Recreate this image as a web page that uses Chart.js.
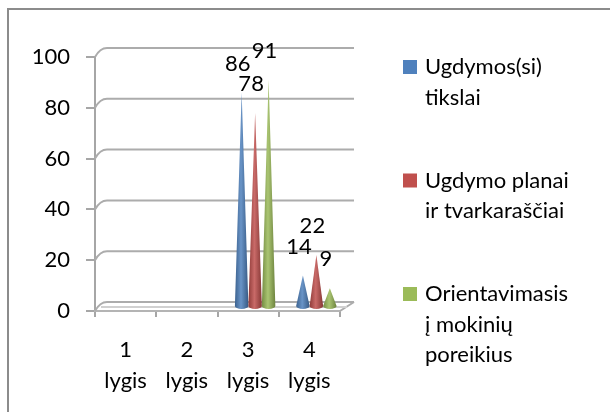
<!DOCTYPE html>
<html>
<head>
<meta charset="utf-8">
<script src="https://cdn.jsdelivr.net/npm/chart.js@4.4.1/dist/chart.umd.min.js"></script>
<style>
  html, body { margin: 0; padding: 0; background: #fff; }
  #wrap { position: relative; width: 610px; height: 412px; overflow: hidden; }
  #frame { position: absolute; left: 7px; top: 8px; width: 700px; height: 500px;
           border-left: 2px solid #8c8c8c; border-top: 2px solid #8c8c8c; }
  canvas { position: absolute; left: 0; top: 0; }
</style>
</head>
<body>
<div id="wrap">
  <div id="frame"></div>
  <canvas id="chart" width="610" height="412"></canvas>
</div>
<script>
const categories = [["1", "lygis"], ["2", "lygis"], ["3", "lygis"], ["4", "lygis"]];
const seriesNames = [
  ["Ugdymos(si)", "tikslai"],
  ["Ugdymo planai", "ir tvarkaraščiai"],
  ["Orientavimasis", "į mokinių", "poreikius"]
];
const tikslai = [0, 0, 86, 14];
const planai = [0, 0, 78, 22];
const poreikiai = [0, 0, 91, 9];
const colors = ["#4F81BD", "#C0504D", "#9BBB59"];
const yTicks = [0, 20, 40, 60, 80, 100];

const FONT = "Lato, 'Open Sans', sans-serif";
const FSIZE = 22;
const DEPTH_X = 7;

function shade(hex, f) {
  const n = parseInt(hex.slice(1), 16);
  let r = (n >> 16) & 255, g = (n >> 8) & 255, b = n & 255;
  if (f < 0) { r *= 1 + f; g *= 1 + f; b *= 1 + f; }
  else { r += (255 - r) * f; g += (255 - g) * f; b += (255 - b) * f; }
  return `rgb(${Math.round(r)},${Math.round(g)},${Math.round(b)})`;
}

// 3D-ish walls: slanted gridlines and floor, cones, labels, legend
const wallsPlugin = {
  id: "walls",
  beforeDatasetsDraw(chart) {
    const { ctx, chartArea } = chart;
    const y = chart.scales.y;
    ctx.save();
    ctx.strokeStyle = "#acacac";
    ctx.lineWidth = 2;
    yTicks.forEach(v => {
      const py = y.getPixelForValue(v);
      ctx.beginPath();
      ctx.moveTo(chartArea.left, py);
      ctx.quadraticCurveTo(chartArea.left + 5, py - 9, chartArea.left + 12, py - 9);
      ctx.lineTo(chartArea.right + 14, py - 9);
      ctx.stroke();
    });
    const base = y.getPixelForValue(0);
    ctx.beginPath();
    ctx.moveTo(chartArea.right, base);
    ctx.lineTo(chartArea.right + 14, base - 9);
    ctx.stroke();
    ctx.beginPath();
    ctx.moveTo(chartArea.left + 6, base - 4);
    ctx.lineTo(chartArea.right + 7, base - 4);
    ctx.strokeStyle = "#d0d0d0";
    ctx.stroke();
    ctx.restore();
  },
  beforeDatasetDraw() {
    return false;
  },
  afterDatasetsDraw(chart) {
    const { ctx } = chart;
    const base = chart.scales.y.getPixelForValue(0) - 5;
    chart.data.datasets.forEach((ds, i) => {
      const meta = chart.getDatasetMeta(i);
      meta.data.forEach((bar, j) => {
        const v = ds.data[j];
        if (!v) return;
        const cx = bar.x + DEPTH_X;
        const w = bar.width;
        const grad = ctx.createLinearGradient(cx - w / 2, 0, cx + w / 2, 0);
        grad.addColorStop(0, shade(colors[i], -0.25));
        grad.addColorStop(0.45, shade(colors[i], 0.15));
        grad.addColorStop(1, shade(colors[i], -0.3));
        ctx.save();
        ctx.fillStyle = grad;
        ctx.beginPath();
        ctx.moveTo(cx - w / 2, base);
        ctx.lineTo(cx, bar.y);
        ctx.lineTo(cx + w / 2, base);
        ctx.ellipse(cx, base, w / 2, 3, 0, 0, Math.PI);
        ctx.closePath();
        ctx.fill();
        ctx.restore();
      });
    });
    ctx.save();
    ctx.font = FSIZE + "px " + FONT;
    ctx.fillStyle = "#000";
    ctx.textAlign = "center";
    ctx.textBaseline = "middle";
    chart.data.datasets.forEach((ds, i) => {
      chart.getDatasetMeta(i).data.forEach((bar, j) => {
        const v = ds.data[j];
        if (!v) return;
        ctx.fillText(String(v), bar.x + DEPTH_X - 4, bar.y - 29);
      });
    });
    ctx.restore();
  },
  afterDraw(chart) {
    const { ctx } = chart;
    ctx.save();
    ctx.font = FSIZE + "px " + FONT;
    ctx.textBaseline = "middle";
    seriesNames.forEach((lines, i) => {
      const top = 67 + i * 113.5;
      ctx.fillStyle = colors[i];
      ctx.fillRect(403, top - 7, 14, 14);
      ctx.fillStyle = "#000";
      lines.forEach((t, k) => ctx.fillText(t, 425, top + k * 30.5));
    });
    ctx.restore();
  }
};

new Chart(document.getElementById("chart"), {
  type: "bar",
  data: {
    labels: categories,
    datasets: [
      { label: seriesNames[0].join(" "), data: tikslai, backgroundColor: colors[0] },
      { label: seriesNames[1].join(" "), data: planai, backgroundColor: colors[1] },
      { label: seriesNames[2].join(" "), data: poreikiai, backgroundColor: colors[2] }
    ]
  },
  options: {
    responsive: false,
    animation: false,
    layout: { padding: { left: 0, right: 270, top: 57, bottom: 0 } },
    datasets: { bar: { categoryPercentage: 0.66, barPercentage: 1 } },
    plugins: { legend: { display: false }, tooltip: { enabled: false } },
    scales: {
      y: {
        min: 0, max: 100,
        afterFit(s) { s.width = 95; },
        ticks: { stepSize: 20, color: "#000", padding: 16, font: { family: FONT, size: FSIZE } },
        grid: { drawOnChartArea: false, color: "#a6a6a6", lineWidth: 2, tickLength: 9 },
        border: { display: true, color: "#a6a6a6", width: 2 }
      },
      x: {
        afterFit(s) { s.height = 101; },
        ticks: { color: "#000", padding: 18, font: { family: FONT, size: FSIZE, lineHeight: 1.4 } },
        grid: { drawOnChartArea: false, offset: true, color: "#a6a6a6", lineWidth: 2, tickLength: 6 },
        border: { display: true, color: "#b4b4b4", width: 2 }
      }
    }
  },
  plugins: [wallsPlugin]
});
</script>
</body>
</html>
